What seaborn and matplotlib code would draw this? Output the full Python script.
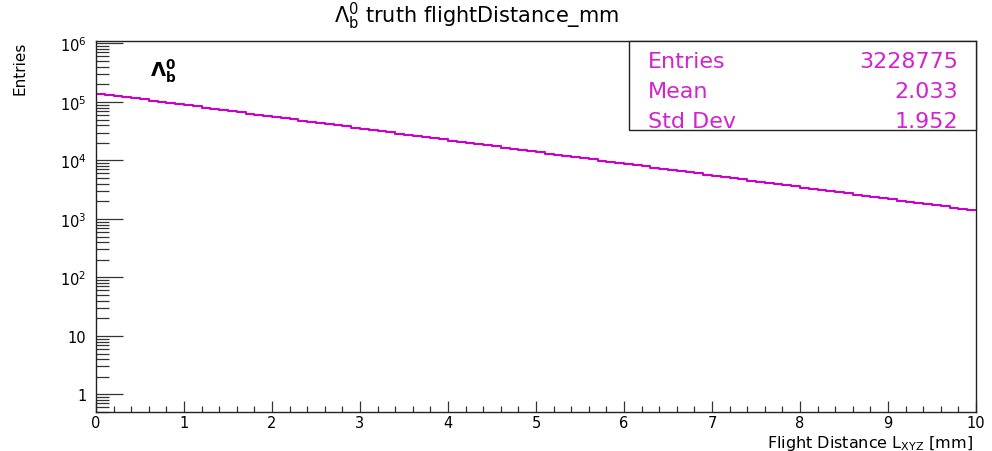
import numpy as np
import pandas as pd
import seaborn as sns
import matplotlib.pyplot as plt
from matplotlib.patches import Rectangle
from matplotlib.ticker import LogLocator, MultipleLocator, NullFormatter, FixedLocator

# histogram contents, 100 bins between 0 and 10 mm
x_range = (0.0, 10.0)
bin_counts = [
    139000, 132700, 126700, 121000, 115500, 110300, 105300, 100500, 96000, 91700,
    87500, 83600, 79800, 76200, 72700, 69400, 66300, 63300, 60400, 57700,
    55100, 52600, 50200, 47900, 45800, 43700, 41700, 39800, 38000, 36300,
    34700, 33100, 31600, 30200, 28800, 27500, 26300, 25100, 23900, 22900,
    21800, 20800, 19900, 19000, 18100, 17300, 16500, 15800, 15100, 14400,
    13750, 13100, 12500, 12000, 11400, 10900, 10400, 9950, 9500, 9070,
    8660, 8270, 7890, 7540, 7200, 6870, 6560, 6260, 5980, 5710,
    5450, 5200, 4970, 4740, 4530, 4320, 4130, 3940, 3760, 3590,
    3430, 3270, 3130, 2980, 2850, 2720, 2600, 2480, 2370, 2260,
    2160, 2060, 1970, 1880, 1800, 1730, 1640, 1560, 1490, 1420,
]
y_ticks = [1, 10, 1e2, 1e3, 1e4, 1e5, 1e6]
y_tick_labels = ['1', '10', '$10^{2}$', '$10^{3}$', '$10^{4}$', '$10^{5}$', '$10^{6}$']
stats_names = ['Entries', 'Mean', 'Std Dev']
stats_values = ['3228775', '2.033', '1.952']

title = r'$\Lambda_{\mathrm{b}}^{0}$ truth flightDistance_mm'
x_title = r'Flight Distance $\mathrm{L}_{\mathrm{XYZ}}$ [mm]'
y_title = 'Entries'
hist_label = r'$\mathbf{\Lambda_{b}^{0}}$'

line_color = '#cc00cc'
text_color = '#d222d2'

W, H = 992, 452


def fx(px):
    return px / W


def fy(py):
    return 1 - py / H


def main():
    sns.set_style('ticks')
    plt.rcParams['font.family'] = ['DejaVu Sans']
    plt.rcParams['mathtext.fontset'] = 'dejavusans'

    edges = np.linspace(x_range[0], x_range[1], len(bin_counts) + 1)
    centers = 0.5 * (edges[:-1] + edges[1:])
    df = pd.DataFrame({'distance': centers, 'entries': bin_counts})

    fig = plt.figure(figsize=(W / 100, H / 100), dpi=100)
    ax = fig.add_axes([fx(96), fy(413), fx(880), 371 / H])
    sns.histplot(data=df, x='distance', weights='entries', bins=edges.tolist(),
                 element='step', fill=False, color=line_color, linewidth=1.5, ax=ax)
    ax.set_yscale('log')
    ax.set_xlim(*x_range)
    ax.set_ylim(0.5, 1.1e6)

    ax.yaxis.set_major_locator(FixedLocator(y_ticks))
    ax.set_yticklabels(y_tick_labels)
    ax.yaxis.set_minor_locator(LogLocator(base=10, subs=np.arange(2, 10)))
    ax.yaxis.set_minor_formatter(NullFormatter())
    ax.xaxis.set_major_locator(MultipleLocator(1))
    ax.xaxis.set_minor_locator(MultipleLocator(0.2))

    ax.tick_params(which='both', direction='in', top=False, right=False,
                   color='#333333', width=0.9, labelsize=10.5, labelcolor='black')
    ax.tick_params(axis='y', which='major', length=19.5, pad=7)
    ax.tick_params(axis='y', which='minor', length=9.5)
    ax.tick_params(axis='x', which='major', length=7.7, pad=2)
    ax.tick_params(axis='x', which='minor', length=4)
    for s in ax.spines.values():
        s.set_color('#222222')
        s.set_linewidth(1)
    ax.set_xlabel('')
    ax.set_ylabel('')

    fig.text(fx(477), fy(16), title, ha='center', va='center', fontsize=15, color='black')
    fig.text(fx(973), fy(448), x_title, ha='right', va='baseline', fontsize=11.5, color='black')
    fig.text(fx(20), fy(42), y_title, rotation=90, ha='center', va='top', fontsize=11,
             color='black')
    fig.text(fx(150), fy(71), hist_label, ha='left', va='center', fontsize=14, color='black')

    # stats box
    fig.add_artist(Rectangle((fx(629), fy(131)), fx(976 - 629), (131 - 42) / H,
                             transform=fig.transFigure, facecolor='white',
                             edgecolor='#222222', linewidth=1, zorder=5))
    for i, (name, val) in enumerate(zip(stats_names, stats_values)):
        yy = fy(62 + 30 * i)
        fig.text(fx(648), yy, name, ha='left', va='center', fontsize=16,
                 color=text_color, zorder=6)
        fig.text(fx(958), yy, val, ha='right', va='center', fontsize=16,
                 color=text_color, zorder=6)

    fig.savefig('out.png', dpi=100)


if __name__ == '__main__':
    main()
